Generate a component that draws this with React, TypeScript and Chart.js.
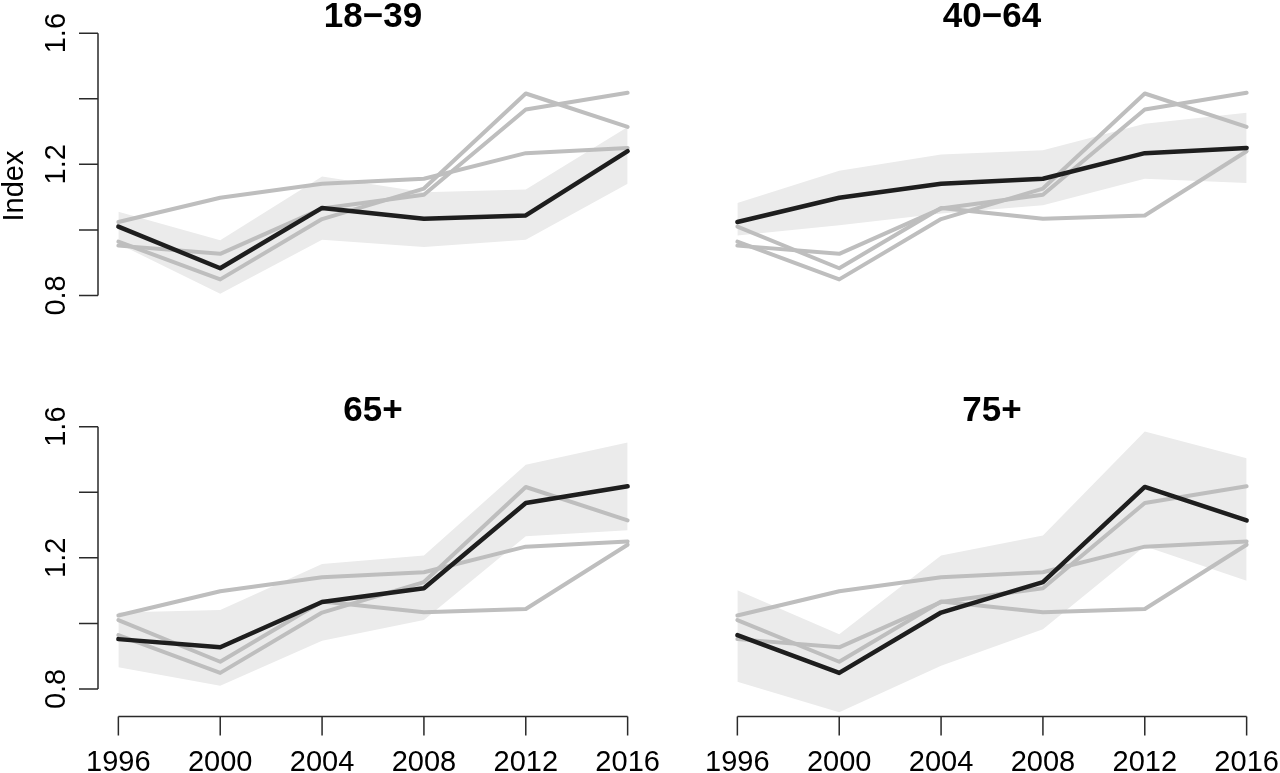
import React, { useEffect, useRef } from "react";
import { Chart, registerables } from "chart.js";

Chart.register(...registerables);

// ---------- data ----------
const years = [1996, 2000, 2004, 2008, 2012, 2016];
const groupNames = ["18\u221239", "40\u221264", "65+", "75+"];

const index18to39 = [1.01, 0.883, 1.067, 1.034, 1.044, 1.24];
const index40to64 = [1.024, 1.098, 1.141, 1.156, 1.234, 1.25];
const index65plus = [0.952, 0.927, 1.065, 1.107, 1.367, 1.418];
const index75plus = [0.964, 0.849, 1.033, 1.126, 1.416, 1.314];

const low18to39 = [0.958, 0.805, 0.97, 0.948, 0.97, 1.141];
const high18to39 = [1.055, 0.968, 1.163, 1.115, 1.123, 1.314];
const low40to64 = [0.983, 1.014, 1.05, 1.075, 1.156, 1.143];
const high40to64 = [1.082, 1.18, 1.23, 1.243, 1.324, 1.357];
const low65plus = [0.866, 0.81, 0.947, 1.01, 1.266, 1.284];
const high65plus = [1.033, 1.041, 1.181, 1.207, 1.484, 1.552];
const low75plus = [0.822, 0.729, 0.871, 0.982, 1.235, 1.13];
const high75plus = [1.101, 0.967, 1.207, 1.268, 1.585, 1.504];

const yTicks = [0.8, 1.0, 1.2, 1.4, 1.6];
const yTickLabels = ["0.8", "", "1.2", "", "1.6"];
const xTicks = [1996, 2000, 2004, 2008, 2012, 2016];
const xTickLabels = ["1996", "2000", "2004", "2008", "2012", "2016"];
const yAxisTitle = "Index";

const allSeries = [index18to39, index40to64, index65plus, index75plus];
const allLows = [low18to39, low40to64, low65plus, low75plus];
const allHighs = [high18to39, high40to64, high65plus, high75plus];

// ---------- styling / layout ----------
const BLACK = "#1e1e1e";
const GREY = "#bebebe";
const BAND = "#ebebeb";
const AXIS = "#2a2a2a";
const FONT = "'Liberation Sans', Arial, Helvetica, sans-serif";

type Panel = {
  group: number;
  left: number;
  top: number;
  width: number;
  height: number;
  pad: { left: number; right: number; top: number; bottom: number };
  showY: boolean;
  showX: boolean;
  showYTitle: boolean;
};

const panels: Panel[] = [
  { group: 0, left: 0, top: 0, width: 660, height: 386, pad: { left: 98, right: 12, top: 22, bottom: 63 }, showY: true, showX: false, showYTitle: true },
  { group: 1, left: 660, top: 0, width: 620, height: 386, pad: { left: 57, right: 13, top: 22, bottom: 63 }, showY: false, showX: false, showYTitle: false },
  { group: 2, left: 0, top: 386, width: 660, height: 387, pad: { left: 98, right: 12, top: 29.5, bottom: 56.5 }, showY: true, showX: true, showYTitle: false },
  { group: 3, left: 660, top: 386, width: 620, height: 387, pad: { left: 57, right: 13, top: 29.5, bottom: 56.5 }, showY: false, showX: true, showYTitle: false },
];

const toPoints = (vals: number[]) => vals.map((v, i) => ({ x: years[i], y: v }));

const rAxesPlugin = {
  id: "rAxes",
  afterDraw(chart: any) {
    const o = chart.options.plugins.rAxes;
    const { ctx, chartArea, scales } = chart;
    const xs = scales.x;
    const ys = scales.y;
    ctx.save();
    ctx.strokeStyle = AXIS;
    ctx.fillStyle = "#000";
    ctx.lineWidth = 1.5;
    const tickLen = 19;

    // title
    ctx.font = `bold 35px ${FONT}`;
    ctx.textAlign = "center";
    ctx.textBaseline = "alphabetic";
    ctx.fillText(o.title, (chartArea.left + chartArea.right) / 2, chartArea.top + 5);

    ctx.font = `29px ${FONT}`;
    if (o.showY) {
      const x0 = chartArea.left;
      const yTop = ys.getPixelForValue(yTicks[yTicks.length - 1]);
      const yBot = ys.getPixelForValue(yTicks[0]);
      ctx.beginPath();
      ctx.moveTo(x0, yTop);
      ctx.lineTo(x0, yBot);
      yTicks.forEach((t) => {
        const py = ys.getPixelForValue(t);
        ctx.moveTo(x0, py);
        ctx.lineTo(x0 - tickLen, py);
      });
      ctx.stroke();
      yTicks.forEach((t, i) => {
        const lab = yTickLabels[i];
        if (!lab) return;
        const py = ys.getPixelForValue(t);
        ctx.save();
        ctx.translate(x0 - 33, py);
        ctx.rotate(-Math.PI / 2);
        ctx.textAlign = "center";
        ctx.fillText(lab, 0, 0);
        ctx.restore();
      });
    }
    if (o.showYTitle) {
      ctx.save();
      ctx.translate(chartArea.left - 75, chartArea.top + 164);
      ctx.rotate(-Math.PI / 2);
      ctx.textAlign = "center";
      ctx.fillText(yAxisTitle, 0, 0);
      ctx.restore();
    }
    if (o.showX) {
      const y0 = chartArea.bottom;
      const xL = xs.getPixelForValue(xTicks[0]);
      const xR = xs.getPixelForValue(xTicks[xTicks.length - 1]);
      ctx.beginPath();
      ctx.moveTo(xL, y0);
      ctx.lineTo(xR, y0);
      xTicks.forEach((t) => {
        const px = xs.getPixelForValue(t);
        ctx.moveTo(px, y0);
        ctx.lineTo(px, y0 + tickLen);
      });
      ctx.stroke();
      ctx.textAlign = "center";
      xTicks.forEach((t, i) => {
        const px = xs.getPixelForValue(t);
        ctx.fillText(xTickLabels[i], px, y0 + 54.5);
      });
    }
    ctx.restore();
  },
};

function PanelChart({ p }: { p: Panel }) {
  const ref = useRef<HTMLCanvasElement | null>(null);
  useEffect(() => {
    if (!ref.current) return;
    const g = p.group;
    const others = [0, 1, 2, 3].filter((k) => k !== g);
    const lineBase = {
      pointRadius: 0,
      pointHoverRadius: 0,
      tension: 0,
      fill: false,
      borderCapStyle: "round" as const,
      borderJoinStyle: "round" as const,
    };
    const datasets: any[] = [
      { ...lineBase, label: groupNames[g], data: toPoints(allSeries[g]), borderColor: BLACK, borderWidth: 4.5 },
      ...others.map((k) => ({
        ...lineBase,
        label: groupNames[k],
        data: toPoints(allSeries[k]),
        borderColor: GREY,
        borderWidth: 4,
      })),
      { ...lineBase, label: "low", data: toPoints(allLows[g]), borderWidth: 0, borderColor: "rgba(0,0,0,0)" },
      {
        ...lineBase,
        label: "high",
        data: toPoints(allHighs[g]),
        borderWidth: 0,
        borderColor: "rgba(0,0,0,0)",
        backgroundColor: BAND,
        fill: "-1",
      },
    ];
    const chart = new Chart(ref.current, {
      type: "line",
      data: { datasets },
      plugins: [rAxesPlugin],
      options: {
        animation: false,
        responsive: false,
        devicePixelRatio: 1,
        layout: { padding: p.pad },
        scales: {
          x: { type: "linear", display: false, min: 1995.2, max: 2016.8 },
          y: { type: "linear", display: false, min: 0.716, max: 1.634 },
        },
        plugins: {
          legend: { display: false },
          tooltip: { enabled: false },
          rAxes: {
            title: groupNames[g],
            showY: p.showY,
            showX: p.showX,
            showYTitle: p.showYTitle,
          },
        } as any,
      },
    });
    return () => chart.destroy();
  }, [p]);
  return (
    <canvas
      ref={ref}
      width={p.width}
      height={p.height}
      style={{ position: "absolute", left: p.left, top: p.top, width: p.width, height: p.height }}
    />
  );
}

export default function App() {
  useEffect(() => {
    document.body.style.margin = "0";
  }, []);
  return (
    <div style={{ position: "fixed", left: 0, top: 0, width: 1280, height: 773, background: "#fff", overflow: "hidden" }}>
      {panels.map((p, i) => (
        <PanelChart key={i} p={p} />
      ))}
    </div>
  );
}
